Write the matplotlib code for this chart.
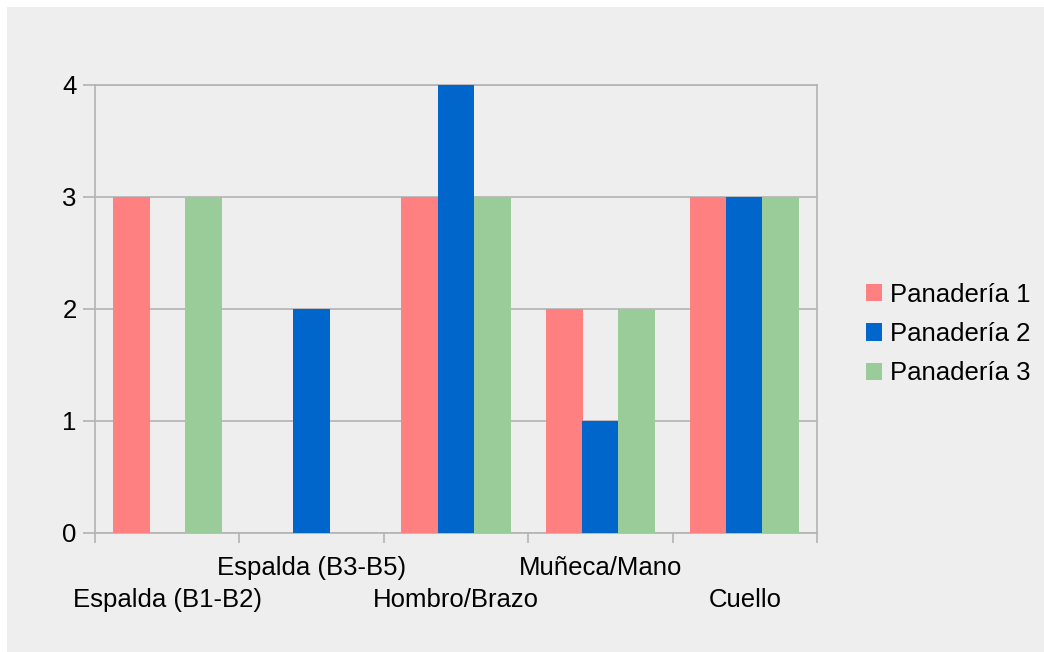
import numpy as np
import matplotlib
matplotlib.use('Agg')
import matplotlib.pyplot as plt
from matplotlib.patches import Rectangle

plt.rcParams['font.family'] = ['Liberation Sans', 'DejaVu Sans']

# body regions and counts per bakery
categories = ['Espalda (B1-B2)', 'Espalda (B3-B5)', 'Hombro/Brazo', 'Muñeca/Mano', 'Cuello']
series_names = ['Panadería 1', 'Panadería 2', 'Panadería 3']
panaderia_1 = [3, 0, 3, 2, 3]
panaderia_2 = [0, 2, 4, 1, 3]
panaderia_3 = [3, 0, 3, 2, 3]
colors = ['#ff8080', '#0066cc', '#99cc99']
y_ticks = [0, 1, 2, 3, 4]
fs = 18.5

fig = plt.figure(figsize=(10.44, 6.52), dpi=100, facecolor='#eeeeee')
# thin white margin along the top and left edges
fig.patches.append(Rectangle((0, 1 - 7 / 652), 1, 7 / 652, transform=fig.transFigure,
                             facecolor='white', edgecolor='none', zorder=-5))
fig.patches.append(Rectangle((0, 0), 7 / 1044, 1, transform=fig.transFigure,
                             facecolor='white', edgecolor='none', zorder=-5))

ax = fig.add_axes([95 / 1044, 1 - 533 / 652, 722 / 1044, 448 / 652])
ax.set_facecolor('#eeeeee')

x = np.arange(len(categories))
width = 0.256
offsets = [-0.25, 0.0, 0.25]
for vals, name, col, off in zip([panaderia_1, panaderia_2, panaderia_3], series_names, colors, offsets):
    ax.bar(x + off, vals, width=width, color=col, label=name, zorder=3)

ax.set_xlim(-0.5, len(categories) - 0.5)
ax.set_ylim(0, 4)
ax.set_yticks(y_ticks)
ax.yaxis.grid(True, color='#b3b3b3', linewidth=1.2, zorder=1)
ax.set_axisbelow(True)

for s in ax.spines.values():
    s.set_color('#b3b3b3')
    s.set_linewidth(1.2)

ax.tick_params(axis='y', length=8.6, width=1.2, color='#b3b3b3', pad=4.5, labelsize=fs)
ax.set_xticks(np.arange(-0.5, len(categories)))
ax.set_xticklabels([])
ax.tick_params(axis='x', length=7, width=1.2, color='#b3b3b3')

# staggered category labels
trans = ax.get_xaxis_transform()
for i, lab in enumerate(categories):
    yy = -0.1496 if i % 2 == 0 else -0.078
    ax.text(i, yy, lab, transform=trans, ha='center', va='center', fontsize=fs)

ax.legend(loc='center left', bbox_to_anchor=(866 / 1044, 1 - 334 / 652),
          bbox_transform=fig.transFigure, frameon=False, fontsize=fs,
          handlelength=0.62, handleheight=0.66, handletextpad=0.32,
          labelspacing=0.6, borderpad=0, borderaxespad=0)

fig.savefig('out.png', dpi=100, facecolor=fig.get_facecolor())
